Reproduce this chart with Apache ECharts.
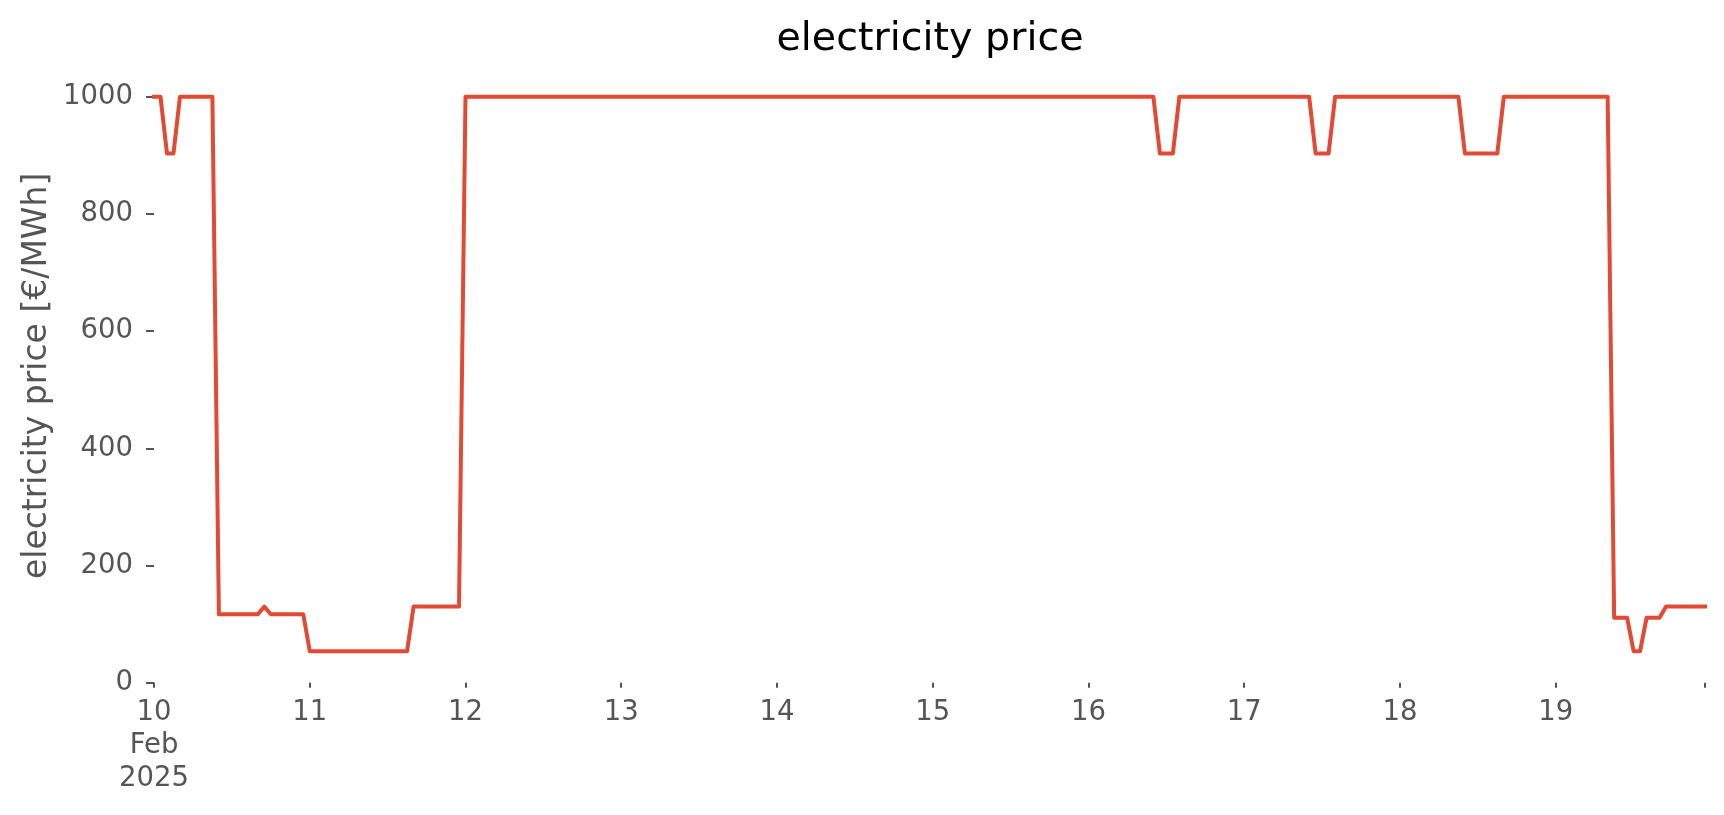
<!DOCTYPE html>
<html>
<head>
<meta charset="utf-8">
<script src="https://cdn.jsdelivr.net/npm/echarts@6/dist/echarts.min.js"></script>
<style>
  html, body { margin: 0; padding: 0; background: #ffffff; }
  #chart { width: 1724px; height: 815px; }
</style>
</head>
<body>
<div id="chart"></div>
<script>
// Hourly electricity price, starting 10 Feb 2025 00:00 (one value per hour)
const startLabel = ['10', 'Feb', '2025'];
const dayLabels = ['10', '11', '12', '13', '14', '15', '16', '17', '18', '19'];
const yTicks = [0, 200, 400, 600, 800, 1000];

const day10 = [1000, 1000, 903, 903, 1000, 1000, 1000, 1000, 1000, 1000,
               117, 117, 117, 117, 117, 117, 117, 130, 117, 117, 117, 117, 117, 117];
const day11 = [54, 54, 54, 54, 54, 54, 54, 54, 54, 54, 54, 54, 54, 54, 54, 54,
               130, 130, 130, 130, 130, 130, 130, 130];
const day12 = [1000, 1000, 1000, 1000, 1000, 1000, 1000, 1000, 1000, 1000, 1000, 1000,
               1000, 1000, 1000, 1000, 1000, 1000, 1000, 1000, 1000, 1000, 1000, 1000];
const day13 = [1000, 1000, 1000, 1000, 1000, 1000, 1000, 1000, 1000, 1000, 1000, 1000,
               1000, 1000, 1000, 1000, 1000, 1000, 1000, 1000, 1000, 1000, 1000, 1000];
const day14 = [1000, 1000, 1000, 1000, 1000, 1000, 1000, 1000, 1000, 1000, 1000, 1000,
               1000, 1000, 1000, 1000, 1000, 1000, 1000, 1000, 1000, 1000, 1000, 1000];
const day15 = [1000, 1000, 1000, 1000, 1000, 1000, 1000, 1000, 1000, 1000, 1000, 1000,
               1000, 1000, 1000, 1000, 1000, 1000, 1000, 1000, 1000, 1000, 1000, 1000];
const day16 = [1000, 1000, 1000, 1000, 1000, 1000, 1000, 1000, 1000, 1000, 1000,
               903, 903, 903, 1000, 1000, 1000, 1000, 1000, 1000, 1000, 1000, 1000, 1000];
const day17 = [1000, 1000, 1000, 1000, 1000, 1000, 1000, 1000, 1000, 1000, 1000,
               903, 903, 903, 1000, 1000, 1000, 1000, 1000, 1000, 1000, 1000, 1000, 1000];
const day18 = [1000, 1000, 1000, 1000, 1000, 1000, 1000, 1000, 1000, 1000,
               903, 903, 903, 903, 903, 903, 1000, 1000, 1000, 1000, 1000, 1000, 1000, 1000];
const day19 = [1000, 1000, 1000, 1000, 1000, 1000, 1000, 1000, 1000,
               111, 111, 111, 54, 54, 111, 111, 111, 130, 130, 130, 130, 130, 130, 130];

const prices = [].concat(day10, day11, day12, day13, day14, day15, day16, day17, day18, day19);
const seriesData = prices.map((v, h) => [h, v]);   // x = hours since 10 Feb 00:00

const FONT = 'DejaVu Sans';
const chart = echarts.init(document.getElementById('chart'), null, { renderer: 'canvas' });

chart.setOption({
  animation: false,
  backgroundColor: '#ffffff',
  title: {
    text: 'electricity price',
    left: 930,
    top: 20,
    padding: 0,
    textAlign: 'center',
    textStyle: { fontFamily: FONT, fontSize: 39.6, fontWeight: 'normal', color: '#000000' }
  },
  grid: { left: 154, right: 19, top: 69, bottom: 132.2, containLabel: false },
  xAxis: {
    type: 'value',
    min: 0,
    max: prices.length - 1,
    interval: 24,
    axisLine: { show: false },
    splitLine: { show: false },
    axisTick: { show: true, length: 5, lineStyle: { color: '#555555', width: 2 } },
    axisLabel: {
      margin: 14,
      fontFamily: FONT,
      fontSize: 27.5,
      lineHeight: 33,
      color: '#555555',
      formatter: function (v) {
        if (v % 24 !== 0) return '';
        const d = v / 24;
        if (d === 0) return startLabel.join('\n');
        return dayLabels[d] || '';
      }
    }
  },
  yAxis: {
    type: 'value',
    min: 0,
    max: 1047.3,
    interval: 200,
    name: 'electricity price [€/MWh]',
    nameLocation: 'middle',
    nameGap: 100,
    nameMoveOverlap: false,
    nameTextStyle: { fontFamily: FONT, fontSize: 33, color: '#555555' },
    axisLine: { show: false },
    splitLine: { show: false },
    axisTick: { show: true, length: 8, customValues: yTicks, lineStyle: { color: '#555555', width: 2 } },
    axisLabel: {
      margin: 21,
      customValues: yTicks,
      fontFamily: FONT,
      fontSize: 27.5,
      color: '#555555',
      formatter: function (v) { return String(v); }
    }
  },
  series: [{
    type: 'line',
    data: seriesData,
    showSymbol: false,
    symbol: 'none',
    clip: false,
    lineStyle: { color: '#E24A33', width: 4, join: 'round', cap: 'square' }
  }]
});
</script>
</body>
</html>
